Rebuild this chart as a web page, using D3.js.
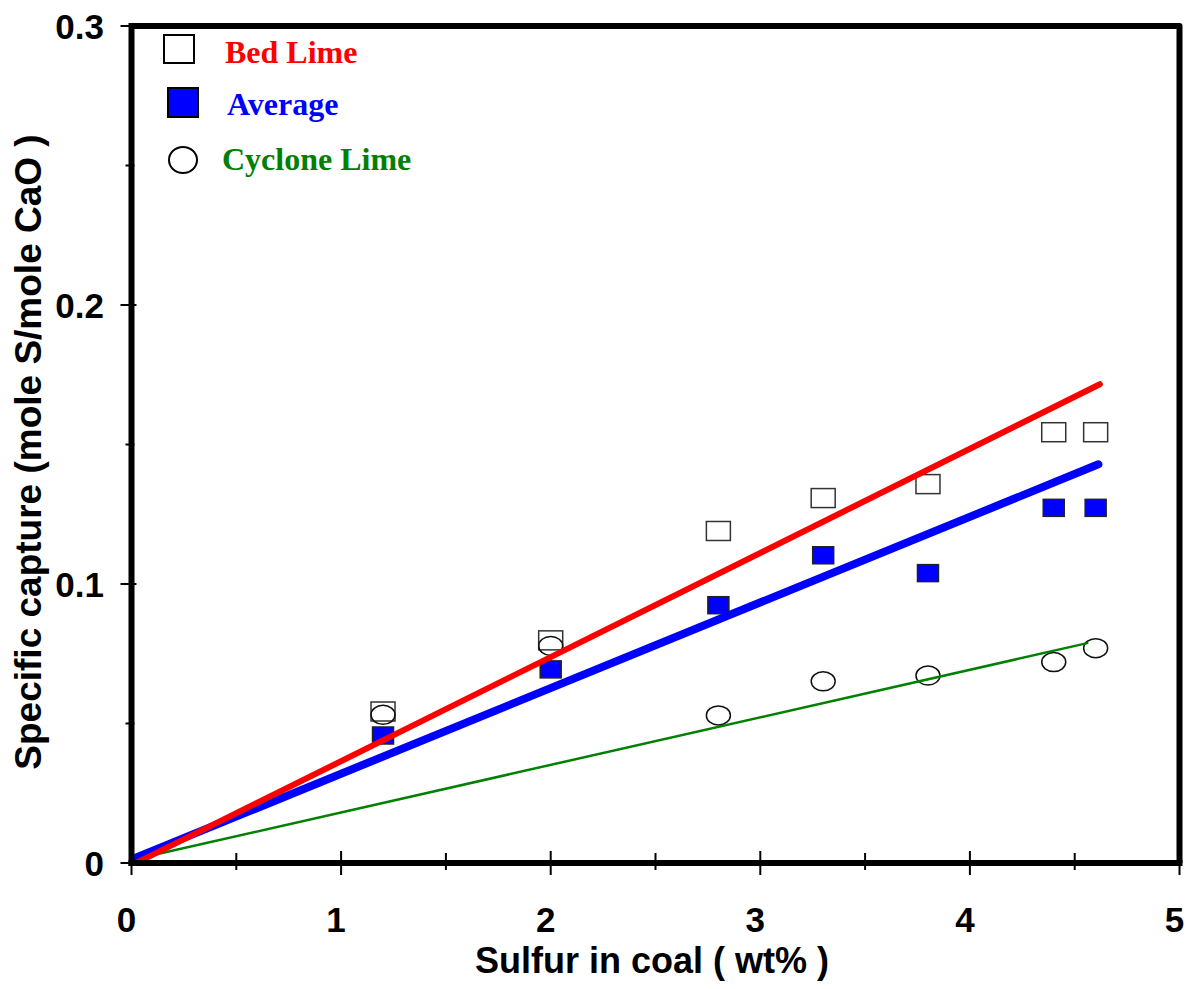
<!DOCTYPE html>
<html>
<head>
<meta charset="utf-8">
<script src="https://cdn.jsdelivr.net/npm/d3@7"></script>
<style>
  html, body { margin: 0; padding: 0; background: #fff; }
  svg { display: block; }
</style>
</head>
<body>
<svg id="chart" width="1192" height="989"></svg>
<script>
// ---- data ----
const sulfur  = [1.2, 2.0, 2.8, 3.3, 3.8, 4.4, 4.6];
const bedLime = [0.0543, 0.0798, 0.119, 0.1308, 0.1358, 0.1544, 0.1544];
const average = [0.0457, 0.0694, 0.0924, 0.1103, 0.1039, 0.1273, 0.1273];
const cyclone = [0.0531, 0.0778, 0.0529, 0.0651, 0.0672, 0.0720, 0.0770];

const bedFit     = [[0.03, 0.0003], [4.62, 0.1716]];
const averageFit = [[0.026, 0.0021], [4.613, 0.1429]];
const cycloneFit = [[0.03, 0.0016], [4.56, 0.0788]];

const xTicks = [0, 1, 2, 3, 4, 5];
const xMinor = [0.5, 1.5, 2.5, 3.5, 4.5];
const yTicks = [0, 0.1, 0.2, 0.3];
const yTickLabels = ["0", "0.1", "0.2", "0.3"];
const yMinor = [0.05, 0.15, 0.25];

const legendLabels = ["Bed Lime", "Average", "Cyclone Lime"];
const legendColors = ["#ff0000", "#0000ff", "#008000"];

(function () {
// ---- layout ----
const svg = d3.select("#chart");
const pL = 131.5, pR = 1179.5, pT = 26, pB = 863;
const x = d3.scaleLinear().domain([0, 5]).range([pL, pR]);
const y = d3.scaleLinear().domain([0, 0.3]).range([pB, pT]);

// frame top & right
svg.append("path")
  .attr("d", `M${pL},${pT} L${pR},${pT} L${pR},${pB}`)
  .attr("fill", "none").attr("stroke", "#000").attr("stroke-width", 6)
  .attr("stroke-linejoin", "round");

// markers
const g = svg.append("g");
g.selectAll("rect.bed").data(sulfur).enter().append("rect")
  .attr("class", "bed")
  .attr("x", (d) => x(d) - 12).attr("y", (d, i) => y(bedLime[i]) - 9.5)
  .attr("width", 24).attr("height", 19)
  .attr("fill", "none").attr("stroke", "#333").attr("stroke-width", 1.5);
g.selectAll("ellipse.cyc").data(sulfur).enter().append("ellipse")
  .attr("class", "cyc")
  .attr("cx", (d) => x(d)).attr("cy", (d, i) => y(cyclone[i]))
  .attr("rx", 12).attr("ry", 9.5)
  .attr("fill", "none").attr("stroke", "#111").attr("stroke-width", 1.5);
g.selectAll("rect.avg").data(sulfur).enter().append("rect")
  .attr("class", "avg")
  .attr("x", (d) => x(d) - 10.5).attr("y", (d, i) => y(average[i]) - 8.5)
  .attr("width", 21).attr("height", 17)
  .attr("fill", "#0000ff").attr("stroke", "#222").attr("stroke-width", 1.5);

// fit lines
const line = d3.line().x((d) => x(d[0])).y((d) => y(d[1]));
svg.append("path").attr("d", line(cycloneFit)).attr("fill", "none")
  .attr("stroke", "#008000").attr("stroke-width", 2.5).attr("stroke-linecap", "round");
svg.append("path").attr("d", line(averageFit)).attr("fill", "none")
  .attr("stroke", "#0000ff").attr("stroke-width", 8).attr("stroke-linecap", "round");
svg.append("path").attr("d", line(bedFit)).attr("fill", "none")
  .attr("stroke", "#ff0000").attr("stroke-width", 6).attr("stroke-linecap", "round");

// axes lines
svg.append("line").attr("x1", pL).attr("x2", pL).attr("y1", pT - 3).attr("y2", pB + 3)
  .attr("stroke", "#000").attr("stroke-width", 6);
svg.append("line").attr("x1", pL - 3).attr("x2", pR + 3).attr("y1", pB).attr("y2", pB)
  .attr("stroke", "#000").attr("stroke-width", 6);

// x ticks
svg.selectAll("line.xt").data(xTicks).enter().append("line")
  .attr("x1", (d) => x(d)).attr("x2", (d) => x(d))
  .attr("y1", pB - 12).attr("y2", pB + 12)
  .attr("stroke", "#000").attr("stroke-width", 2);
svg.selectAll("line.xm").data(xMinor).enter().append("line")
  .attr("x1", (d) => x(d)).attr("x2", (d) => x(d))
  .attr("y1", pB - 10).attr("y2", pB + 7)
  .attr("stroke", "#000").attr("stroke-width", 2);
// y ticks
svg.selectAll("line.yt").data(yTicks).enter().append("line")
  .attr("x1", pL - 11).attr("x2", pL + 5)
  .attr("y1", (d) => y(d)).attr("y2", (d) => y(d))
  .attr("stroke", "#000").attr("stroke-width", 2);
svg.selectAll("line.ym").data(yMinor).enter().append("line")
  .attr("x1", pL - 6).attr("x2", pL + 3)
  .attr("y1", (d) => y(d)).attr("y2", (d) => y(d))
  .attr("stroke", "#000").attr("stroke-width", 2);

// tick labels
const tickFont = "Liberation Sans, Arial, sans-serif";
svg.selectAll("text.xl").data(xTicks).enter().append("text")
  .attr("x", (d) => x(d) - 5).attr("y", 932)
  .attr("text-anchor", "middle")
  .attr("font-family", tickFont).attr("font-weight", "bold").attr("font-size", 35)
  .text((d) => d);
svg.selectAll("text.yl").data(yTicks).enter().append("text")
  .attr("x", 104).attr("y", (d) => y(d) + 12.5)
  .attr("text-anchor", "end")
  .attr("font-family", tickFont).attr("font-weight", "bold").attr("font-size", 35)
  .text((d, i) => yTickLabels[i]);

// axis titles
svg.append("text").attr("x", 652).attr("y", 973).attr("text-anchor", "middle")
  .attr("font-family", tickFont).attr("font-weight", "bold").attr("font-size", 36)
  .text("Sulfur in coal ( wt% )");
svg.append("text").attr("transform", "translate(41,452) rotate(-90)")
  .attr("text-anchor", "middle")
  .attr("font-family", tickFont).attr("font-weight", "bold").attr("font-size", 37)
  .text("Specific capture (mole S/mole CaO )");

// legend
const lg = svg.append("g");
lg.append("rect").attr("x", 164).attr("y", 35).attr("width", 30).attr("height", 28)
  .attr("fill", "#fff").attr("stroke", "#000").attr("stroke-width", 2);
lg.append("rect").attr("x", 168).attr("y", 88).attr("width", 30).attr("height", 29)
  .attr("fill", "#0000ff").attr("stroke", "#000").attr("stroke-width", 2);
lg.append("ellipse").attr("cx", 183).attr("cy", 160).attr("rx", 14).attr("ry", 13)
  .attr("fill", "#fff").attr("stroke", "#000").attr("stroke-width", 2);
const legX = [225, 227, 222];
const legY = [63, 115, 170];
lg.selectAll("text").data(legendLabels).enter().append("text")
  .attr("x", (d, i) => legX[i]).attr("y", (d, i) => legY[i])
  .attr("font-family", "Liberation Serif, Times New Roman, serif")
  .attr("font-weight", "bold").attr("font-size", 32)
  .attr("fill", (d, i) => legendColors[i])
  .text((d) => d);
})();
</script>
</body>
</html>
